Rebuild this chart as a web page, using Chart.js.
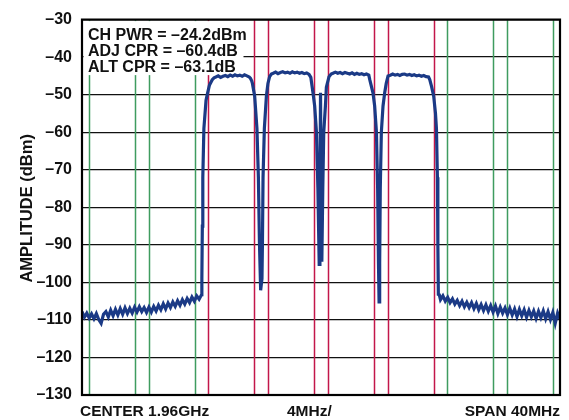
<!DOCTYPE html>
<html>
<head>
<meta charset="utf-8">
<script src="https://cdn.jsdelivr.net/npm/chart.js@4"></script>
<style>
  body { margin: 0; background: #fff; }
  canvas { display: block; }
</style>
</head>
<body>
<canvas id="myChart" width="569" height="420"></canvas>
<script>
// trace, [offset MHz, dBm]
const floorLeft = [
  [-20.0,-107.8],[-19.8,-109.3],[-19.6,-108.2],[-19.4,-109.5],[-19.2,-108.4],[-19.0,-109.7],
  [-18.8,-108.3],[-18.6,-109.9],[-18.4,-110.9],[-18.2,-108.5],[-18.0,-107.8],[-17.8,-109.2],
  [-17.6,-107.4],[-17.4,-108.9],[-17.2,-107.2],[-17.0,-108.7],[-16.8,-107.0],[-16.6,-108.5],
  [-16.4,-106.8],[-16.2,-108.3],[-16.0,-106.9],[-15.8,-108.2],[-15.6,-106.6],[-15.4,-107.9],
  [-15.2,-106.5],[-15.0,-107.8],[-14.8,-106.7],[-14.6,-108.0],[-14.4,-106.6],[-14.2,-107.9],
  [-14.0,-106.4],[-13.8,-107.6],[-13.6,-106.1],[-13.4,-107.3],[-13.2,-105.7],[-13.0,-107.1],
  [-12.8,-105.5],[-12.6,-106.7],[-12.4,-105.2],[-12.2,-106.4],[-12.0,-104.9],[-11.8,-106.1],
  [-11.6,-104.6],[-11.4,-105.8],[-11.2,-104.3],[-11.0,-105.4],[-10.8,-103.9],[-10.6,-105.0],
  [-10.4,-103.6],[-10.2,-104.5],[-10.0,-103.3]
]
const edgeUp1 = [
  [-9.97,-99],[-9.93,-85],[-9.89,-72],[-9.8,-59],[-9.62,-51.5],[-9.52,-50],[-9.34,-47.5],
  [-9.1,-46.0],[-8.95,-45.5]
]
const carrier1 = [
  [-8.8,-45.3],[-8.6,-45.0],[-8.4,-45.4],[-8.2,-45.1],[-8.0,-44.9],[-7.8,-45.2],[-7.6,-44.8],
  [-7.4,-45.1],[-7.2,-44.7],[-7.0,-45.0],[-6.8,-44.8],[-6.6,-45.1],[-6.4,-44.7],[-6.2,-45.0],
  [-6.0,-45.3]
]
const dip1 = [
  [-5.91,-45.6],[-5.8,-46.3],[-5.74,-47],[-5.55,-50.4],[-5.36,-59],[-5.24,-72],[-5.15,-89.5],
  [-5.05,-102.1],[-4.94,-99],[-4.9,-89.5],[-4.85,-72],[-4.74,-59],[-4.57,-50.4],[-4.44,-47],
  [-4.3,-45.2],[-4.15,-44.5]
]
const carrier2 = [
  [-4.0,-44.3],[-3.8,-44.0],[-3.6,-44.4],[-3.4,-44.1],[-3.2,-43.9],[-3.0,-44.2],[-2.8,-44.0],
  [-2.6,-44.3],[-2.4,-43.9],[-2.2,-44.2],[-2.0,-44.0],[-1.8,-44.3],[-1.6,-44.1],[-1.4,-44.4],
  [-1.2,-44.2],[-1.0,-44.6]
]
const dip2 = [
  [-0.85,-45.4],[-0.67,-49.5],[-0.53,-53],[-0.38,-60],[-0.26,-75],[-0.15,-95.2],[-0.09,-80],
  [-0.04,-49.5],[0.01,-80],[0.07,-94.5],[0.15,-75],[0.23,-60],[0.37,-53],[0.45,-48],
  [0.67,-45.2],[0.85,-44.5]
]
const carrier3 = [
  [1.0,-44.3],[1.2,-44.0],[1.4,-44.3],[1.6,-44.1],[1.8,-44.4],[2.0,-44.1],[2.2,-44.3],
  [2.4,-44.5],[2.6,-44.2],[2.8,-44.6],[3.0,-44.3],[3.2,-44.6],[3.4,-44.4],[3.6,-44.7],
  [3.8,-44.5],[4.0,-44.8]
]
const dip3 = [
  [4.08,-46],[4.35,-49.5],[4.49,-53],[4.64,-60],[4.74,-75],[4.81,-95],[4.86,-105.2],
  [4.91,-95],[4.96,-75],[5.05,-60],[5.19,-53],[5.33,-49.5],[5.46,-47],[5.61,-45]
]
const carrier4 = [
  [5.8,-44.8],[6.0,-44.5],[6.2,-44.8],[6.4,-44.6],[6.6,-44.9],[6.8,-44.6],[7.0,-44.5],
  [7.2,-44.8],[7.4,-44.6],[7.6,-44.9],[7.8,-44.7],[8.0,-45.0],[8.2,-44.8],[8.4,-45.1],
  [8.6,-44.9],[8.8,-45.2],[9.0,-45.3]
]
const edgeDown4 = [
  [9.1,-46],[9.25,-47.8],[9.43,-50.4],[9.58,-55],[9.66,-59],[9.74,-72],[9.78,-90],[9.82,-103.2]
]
const floorRight = [
  [9.9,-103.3],[10.0,-104.6],[10.2,-103.6],[10.4,-105.0],[10.6,-104.0],[10.8,-105.4],
  [11.0,-104.4],[11.2,-105.8],[11.4,-104.8],[11.6,-106.2],[11.8,-105.0],[12.0,-106.5],
  [12.2,-105.3],[12.4,-106.7],[12.6,-105.4],[12.8,-107.0],[13.0,-105.6],[13.2,-107.3],
  [13.4,-105.9],[13.6,-107.5],[13.8,-106.0],[14.0,-107.7],[14.2,-106.2],[14.4,-107.9],
  [14.6,-106.3],[14.8,-108.3],[15.0,-106.6],[15.2,-108.2],[15.4,-106.8],[15.6,-108.6],
  [15.8,-106.9],[16.0,-108.7],[16.2,-107.1],[16.4,-109.1],[16.6,-107.2],[16.8,-108.9],
  [17.0,-107.3],[17.2,-109.3],[17.4,-107.5],[17.6,-109.2],[17.8,-107.6],[18.0,-109.6],
  [18.2,-107.7],[18.4,-109.4],[18.6,-107.6],[18.8,-109.7],[19.0,-107.8],[19.2,-109.9],
  [19.4,-108.0],[19.6,-110.9],[19.8,-108.2],[20.0,-109.8]
]

// channel edges (MHz offset from center)
const mainEdges = [-9.42, -5.58, -4.42, -0.58, 0.58, 4.42, 5.58, 9.42]
const adjEdges = [-19.42, -15.58, -14.42, -10.58, 10.58, 14.42, 15.58, 19.42]

const yTicks = [-130, -120, -110, -100, -90, -80, -70, -60, -50, -40, -30]
const readout = ['CH PWR = \u201324.2dBm', 'ADJ CPR = \u201360.4dB', 'ALT CPR = \u201363.1dB']
const yTitle = 'AMPLITUDE (dBm)'
const xLabels = ['CENTER 1.96GHz', '4MHz/', 'SPAN 40MHz']

const FONT = '"Liberation Sans", Arial, Helvetica, sans-serif'

const trace = [].concat(floorLeft, edgeUp1, carrier1, dip1, carrier2, dip2, carrier3, dip3, carrier4, edgeDown4, floorRight)
    .map(p => ({x: p[0], y: p[1]}))

const markers = {
    id: 'markers',
    beforeDatasetsDraw(chart) {
        const {ctx, chartArea: a, scales: {x}} = chart
        ctx.save()
        ctx.lineWidth = 1.5
        ctx.strokeStyle = '#3f9c5f'
        adjEdges.forEach(f => {
            const px = Math.round(x.getPixelForValue(f)) + 0.5
            ctx.beginPath(); ctx.moveTo(px, a.top); ctx.lineTo(px, a.bottom); ctx.stroke()
        })
        ctx.strokeStyle = '#c3164a'
        mainEdges.forEach(f => {
            const px = Math.round(x.getPixelForValue(f)) + 0.5
            ctx.beginPath(); ctx.moveTo(px, a.top); ctx.lineTo(px, a.bottom); ctx.stroke()
        })
        // readout box
        ctx.fillStyle = '#fff'
        ctx.fillRect(a.left + 1.5, a.top + 1.5, 160, 54)
        ctx.fillStyle = '#111'
        ctx.font = 'bold 16px ' + FONT
        ctx.textAlign = 'left'
        ctx.textBaseline = 'alphabetic'
        readout.forEach((t, i) => ctx.fillText(t, a.left + 6, a.top + 20 + i * 16.4))
        ctx.restore()
    },
    afterDraw(chart) {
        const {ctx, chartArea: a} = chart
        ctx.save()
        ctx.strokeStyle = '#000'
        ctx.lineWidth = 2.2
        ctx.strokeRect(a.left, a.top, a.right - a.left, a.bottom - a.top)
        ctx.fillStyle = '#111'
        ctx.font = 'bold 15.5px ' + FONT
        ctx.textBaseline = 'alphabetic'
        ctx.textAlign = 'left'
        ctx.fillText(xLabels[0], a.left - 2, 416)
        ctx.fillText(xLabels[1], a.left + 205, 416)
        ctx.textAlign = 'right'
        ctx.fillText(xLabels[2], a.right, 416)
        ctx.translate(27, (a.top + a.bottom) / 2 + 1)
        ctx.rotate(-Math.PI / 2)
        ctx.textAlign = 'center'
        ctx.textBaseline = 'middle'
        ctx.font = 'bold 16.5px ' + FONT
        ctx.fillText(yTitle, 0, 0)
        ctx.restore()
    }
}

const ctx = document.getElementById('myChart')
new Chart(ctx, {
    type: 'line',
    data: {
        datasets: [{
            data: trace,
            borderColor: '#1b3a86',
            borderWidth: 3.2,
            pointRadius: 0,
            tension: 0,
            fill: false
        }]
    },
    options: {
        responsive: false,
        animation: false,
        devicePixelRatio: 1,
        layout: {padding: {left: 0, right: 9, top: 12, bottom: 0}},
        plugins: {legend: {display: false}, tooltip: {enabled: false}},
        scales: {
            x: {
                type: 'linear',
                min: -20,
                max: 20,
                grid: {display: false},
                border: {display: false},
                ticks: {display: false},
                afterFit(scale) { scale.height = 25 }
            },
            y: {
                min: -130,
                max: -30,
                afterBuildTicks(scale) { scale.ticks = yTicks.map(v => ({value: v})) },
                grid: {color: '#111', lineWidth: 1.3, drawTicks: false},
                border: {display: false},
                ticks: {
                    color: '#111',
                    padding: 10,
                    font: {family: FONT, size: 16, weight: 'bold'},
                    callback: v => '\u2013' + Math.abs(v)
                },
                afterFit(scale) { scale.width = 82 }
            }
        }
    },
    plugins: [markers]
})
</script>
</body>
</html>
